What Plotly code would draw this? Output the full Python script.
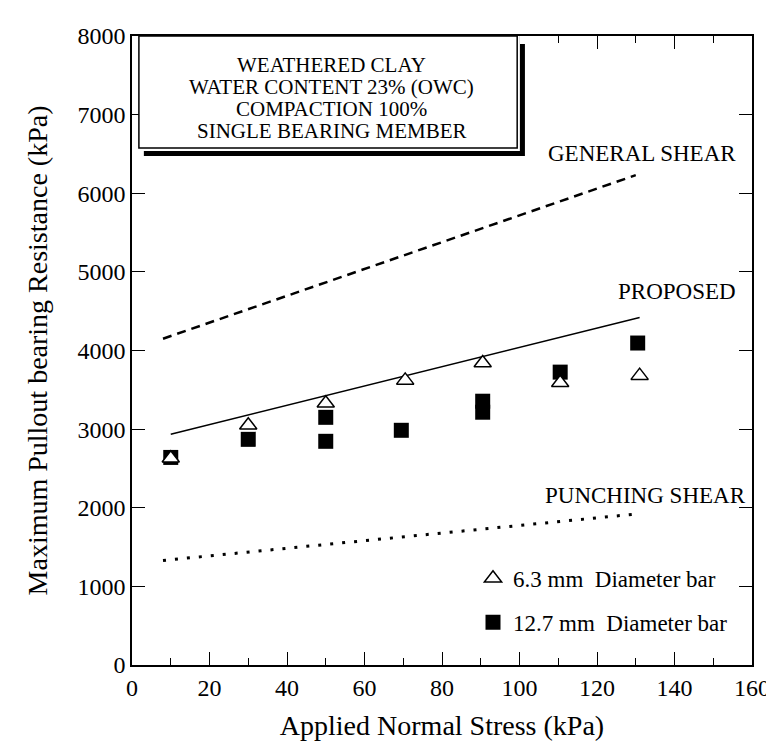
import plotly.graph_objects as go

# ---- data ----
stress_tri = [10, 30, 50, 70.5, 90.5, 110.5, 131]
resist_tri = [2630, 3050, 3330, 3620, 3840, 3590, 3680]

stress_sq = [10, 30, 50, 50, 69.5, 90.5, 90.5, 110.5, 130.5]
resist_sq = [2640, 2870, 3150, 2845, 2985, 3355, 3215, 3725, 4095]

general_x = [8, 130]
general_y = [4150, 6230]
proposed_x = [10, 131]
proposed_y = [2935, 4420]
punch_x = [8, 130]
punch_y = [1330, 1920]

x_ticks = list(range(0, 161, 20))
y_ticks = list(range(0, 8001, 1000))

box_lines = ["WEATHERED CLAY", "WATER CONTENT 23% (OWC)", "COMPACTION 100%", "SINGLE BEARING MEMBER"]
box_line_y = [7626, 7352, 7072, 6792]

FONT = "Liberation Serif, Times New Roman, serif"

fig = go.Figure()

fig.add_trace(go.Scatter(x=general_x, y=general_y, mode="lines",
                         line=dict(color="black", width=2.5, dash="9px,6px"), showlegend=False))
fig.add_trace(go.Scatter(x=proposed_x, y=proposed_y, mode="lines",
                         line=dict(color="black", width=1.5), showlegend=False))
fig.add_trace(go.Scatter(x=punch_x, y=punch_y, mode="lines",
                         line=dict(color="black", width=3, dash="3px,9px"), showlegend=False))

fig.add_trace(go.Scatter(x=stress_sq, y=resist_sq, mode="markers", name="12.7 mm  Diameter bar",
                         legendgroup="b", legendrank=2,
                         marker=dict(symbol="square", size=15, color="black",
                                     line=dict(color="black", width=0))))
fig.add_trace(go.Scatter(x=stress_tri, y=resist_tri, mode="markers", name="6.3 mm  Diameter bar",
                         legendgroup="a", legendrank=1,
                         marker=dict(symbol="triangle-up", size=15, color="white",
                                     line=dict(color="black", width=1.5))))

# text box with drop shadow
fig.add_shape(type="rect", xref="x", yref="y", x0=3.06, x1=101.4, y0=6474, y1=7899,
              fillcolor="black", line=dict(width=0), layer="above")
fig.add_shape(type="rect", xref="x", yref="y", x0=1.78, x1=100.1, y0=6538, y1=8000,
              fillcolor="white", line=dict(width=0), layer="above")
fig.add_shape(type="rect", xref="x", yref="y", x0=1.78, x1=99.4, y0=6576, y1=8000,
              fillcolor="white", line=dict(color="black", width=1.5), layer="above")
for txt, yy in zip(box_lines, box_line_y):
    fig.add_annotation(x=51.5, y=yy, xref="x", yref="y", text=txt,
                       showarrow=False, align="center", font=dict(family=FONT, size=21, color="black"))

fig.add_annotation(x=156.4, y=6500, xref="x", yref="y", text="GENERAL SHEAR", showarrow=False,
                   xanchor="right", font=dict(family=FONT, size=23, color="black"))
fig.add_annotation(x=156.4, y=4745, xref="x", yref="y", text="PROPOSED", showarrow=False,
                   xanchor="right", font=dict(family=FONT, size=23, color="black"))
fig.add_annotation(x=158.9, y=2162, xref="x", yref="y", text="PUNCHING SHEAR", showarrow=False,
                   xanchor="right", font=dict(family=FONT, size=23, color="black"))

axis_common = dict(showline=True, linecolor="black", linewidth=1.5, mirror="ticks",
                   ticks="inside", ticklen=13, tickwidth=1.3, tickcolor="black",
                   showgrid=False, zeroline=False,
                   tickfont=dict(family=FONT, size=24, color="black"))

fig.update_xaxes(range=[0, 160], tickvals=x_ticks, ticktext=[str(v) for v in x_ticks],
                 minor=dict(ticks="inside", ticklen=7, dtick=10, tickwidth=1.3, tickcolor="black"),
                 title=dict(text="Applied Normal Stress (kPa)", font=dict(family=FONT, size=28, color="black"),
                            standoff=16),
                 **axis_common)
fig.update_yaxes(range=[0, 8000], tickvals=y_ticks, ticktext=[str(v) for v in y_ticks],
                 title=dict(text="Maximum Pullout bearing Resistance (kPa)",
                            font=dict(family=FONT, size=28, color="black"), standoff=22),
                 **axis_common)

fig.update_layout(
    width=774, height=743,
    margin=dict(l=124, r=22, t=28, b=86),
    plot_bgcolor="white", paper_bgcolor="white",
    font=dict(family=FONT, color="black"),
    legend=dict(x=0.55, y=0.172, xanchor="left", yanchor="top", bgcolor="rgba(0,0,0,0)",
                tracegroupgap=11,
                font=dict(family=FONT, size=23, color="black")),
)

fig.write_html("out.html")
